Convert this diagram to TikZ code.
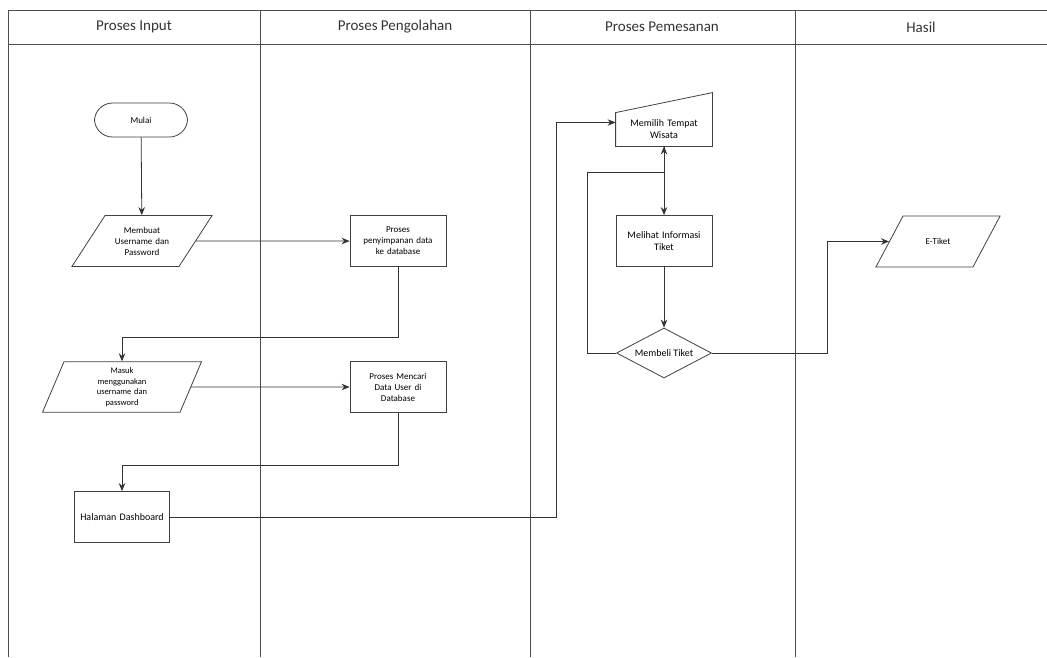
\documentclass[tikz,border=0pt]{standalone}
\usepackage{fontspec}
\setmainfont{Carlito}
\usetikzlibrary{arrows.meta,shapes.geometric}
\usetikzlibrary{positioning}
\tikzset{
    lane/.style={
           draw=black!70,
           line width=1pt,
           },
    judul/.style={
           font=\fontsize{15}{17}\selectfont,
           text=black!80,
           },
    panah/.style={
           ->,
           >={Stealth[length=8pt,width=6.5pt]},
           draw=black!80,
           line width=0.8pt,
           },
    proses/.style={
           rectangle,
           draw=black!75,
           line width=0.8pt,
           minimum width=96,
           minimum height=51,
           inner sep=2pt,
           text width=90,
           align=center,
           font=\fontsize{9}{11}\selectfont,
           },
    data/.style={
           trapezium,
           trapezium stretches body=true,
           draw=black!75,
           line width=0.8pt,
           minimum height=0pt,
           inner xsep=0pt,
           text width=80,
           align=center,
           font=\fontsize{9}{11}\selectfont,
           },
}

\begin{document}
\begin{tikzpicture}[x=1pt,y=-1pt]
 \useasboundingbox (0,0) rectangle (1047,657);

 % swimlanes
 \draw[lane] (1047,10) -- (8,10) -- (8,657);
 \draw[lane] (8,44) -- (1047,44);
 \foreach \x in {260,530,795}
   \draw[lane] (\x,10) -- (\x,657);

 \node[judul] (LANEA) at (134,27) {Proses Input};
 \node[judul] (LANEB) at (395,27) {Proses Pengolahan};
 \node[judul] (LANEC) at (662,27) {Proses Pemesanan};
 \node[judul] (LANED) at (921,27) {Hasil};

 \node[proses,
 rounded corners=18pt,
 minimum width=93,
 minimum height=34,
 text width=80,
 ] (MULAI) at (141,120) {Mulai};

 \node[data,
 text width=74,
 inner ysep=11.3pt,
 trapezium left angle=57,
 trapezium right angle=123,
 ] (MEMBUAT) at (142,241)
 {Membuat\\ Username dan\\ Password};

 \node[proses] (SIMPAN) at (398,241)
 {Proses\\ penyimpanan data\\ ke database};

 \node[data,
 minimum width=159,
 inner ysep=5.9pt,
 trapezium left angle=67,
 trapezium right angle=113,
 font=\fontsize{8.5}{10.5}\selectfont,
 ] (MASUK) at (122,387)
 {Masuk\\ menggunakan\\ username dan\\ password};

 \node[proses] (CARI) at (398,387)
 {Proses Mencari\\ Data User di\\ Database};

 \node[proses,
 minimum width=95,
 font=\fontsize{10}{12}\selectfont,
 ] (DASH) at (122,517) {Halaman Dashboard};

 \node[proses,
 draw=none,
 minimum width=96,
 minimum height=33,
 font=\fontsize{10}{12}\selectfont,
 ] (MEMILIH) at (664,129.5)
 {Memilih Tempat\\ Wisata};
 \draw[black!75, line width=0.8pt] (MEMILIH.south west) -- (MEMILIH.south east)
   -- ([yshift=20pt]MEMILIH.north east) -- (MEMILIH.north west) -- cycle;

 \node[proses,
 font=\fontsize{10}{12}\selectfont,
 ] (MELIHAT) at (664,241)
 {Melihat Informasi\\ Tiket};

 \node[proses,
 diamond,
 aspect=1.9,
 minimum width=95,
 minimum height=50,
 inner sep=0pt,
 text width=,
 font=\fontsize{10}{12}\selectfont,
 ] (BELI) at (664,353) {Membeli Tiket};

 \node[data,
 text width=70,
 inner ysep=22.3pt,
 trapezium left angle=62,
 trapezium right angle=118,
 ] (ETIKET) at (938,241.5) {E-Tiket};

 % connectors
 \draw[panah] (MULAI) -- (MEMBUAT);
 \draw[panah] (MEMBUAT.east) -- (SIMPAN.west);
 \draw[panah] (SIMPAN.south) -- ++(0,70) -| (MASUK.north);
 \draw[panah] (MASUK.east) -- (CARI.west);
 \draw[panah] (CARI.south) -- ++(0,52) -| (DASH.north);
 \draw[panah] (DASH.east) -| ([xshift=-59pt,yshift=7pt]MEMILIH.west)
   -- ([yshift=7pt]MEMILIH.west);
 \draw[panah] (MEMILIH.south) -- (MELIHAT.north);
 \draw[panah] (MELIHAT.south) -- (BELI.north);
 \draw[panah] (BELI.west) -- ++(-29,0) |- ([yshift=-26pt]MEMILIH.south)
   -- (MEMILIH.south);
 \draw[panah] (BELI.east) -- ++(115,0) |- (ETIKET.west);
\end{tikzpicture}
\end{document}
